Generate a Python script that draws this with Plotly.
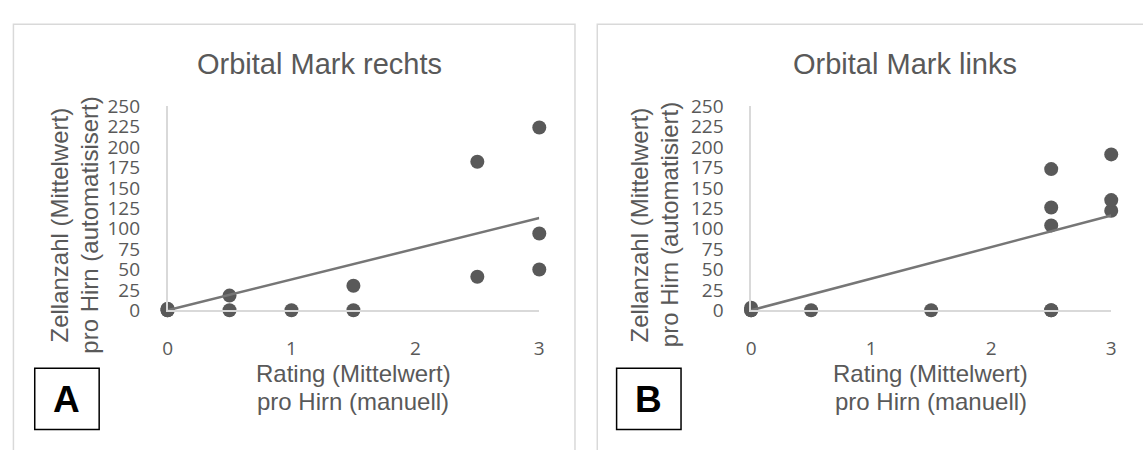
import numpy as np
import plotly.graph_objects as go

W, H = 1143, 450

# ---- data ----
rating_A = [0, 0, 0, 0.5, 0.5, 1, 1.5, 1.5, 2.5, 2.5, 3, 3, 3]
cells_A = [0, 2, 0, 0, 18, 0, 0, 30, 182, 41, 224, 94, 50]

rating_B = [0, 0, 0, 0.5, 1.5, 2.5, 2.5, 2.5, 2.5, 2.5, 3, 3, 3]
cells_B = [0, 3, 0, 0, 0, 0, 0, 104, 126, 173, 122, 135, 191]

x_ticks = [0, 1, 2, 3]
y_ticks = [0, 25, 50, 75, 100, 125, 150, 175, 200, 225, 250]

titles = ["Orbital Mark rechts", "Orbital Mark links"]
y_title_1 = ["Zellanzahl (Mittelwert)", "Zellanzahl (Mittelwert)"]
y_title_2 = ["pro Hirn (automatisisert)", "pro Hirn (automatisiert)"]
x_title_1 = "Rating (Mittelwert)"
x_title_2 = "pro Hirn (manuell)"
panel_labels = ["A", "B"]

GRAY_TXT = "#595959"
MARK = "#595959"
TREND = "#767676"
AXIS = "#d9d9d9"
TICK_FONT = dict(family="Open Sans", size=19, color=GRAY_TXT)


def px_x(p):
    return p / W


def px_y(p):
    return 1 - p / H


fig = go.Figure()

panels = [
    dict(x=rating_A, y=cells_A, xa="x", ya="y"),
    dict(x=rating_B, y=cells_B, xa="x2", ya="y2"),
]

for i, p in enumerate(panels):
    xs = np.array(p["x"], dtype=float)
    ys = np.array(p["y"], dtype=float)
    fig.add_trace(go.Scatter(
        x=xs, y=ys, mode="markers", xaxis=p["xa"], yaxis=p["ya"],
        marker=dict(size=14, color=MARK), cliponaxis=False, showlegend=False,
    ))
    # linear trendline with intercept fixed at 0 (Excel style)
    slope = float((xs * ys).sum() / (xs * xs).sum())
    tx = np.array([xs.min(), xs.max()])
    fig.add_trace(go.Scatter(
        x=tx, y=slope * tx, mode="lines", xaxis=p["xa"], yaxis=p["ya"],
        line=dict(color=TREND, width=2.5), cliponaxis=False, showlegend=False,
    ))

ydom = [px_y(315.5), px_y(99)]
axis_common = dict(showgrid=False, zeroline=False, showline=True,
                   linecolor=AXIS, linewidth=1.5, ticks="",
                   tickfont=TICK_FONT)

fig.update_layout(
    width=W, height=H, margin=dict(l=0, r=0, t=0, b=0),
    paper_bgcolor="white", plot_bgcolor="white",
    xaxis=dict(domain=[px_x(164), px_x(539)], range=[0, 3], tickvals=x_ticks,
               anchor="y", ticklabelstandoff=20, **axis_common),
    yaxis=dict(domain=ydom, range=[0, 250], tickvals=y_ticks, anchor="x",
               ticklabelstandoff=22, **axis_common),
    xaxis2=dict(domain=[px_x(752.7), px_x(1116)], range=[0, 3], tickvals=x_ticks,
                anchor="y2", ticklabelstandoff=20, **axis_common),
    yaxis2=dict(domain=ydom, range=[0, 250], tickvals=y_ticks, anchor="x2",
                ticklabelstandoff=22, **axis_common),
)

# frames around the two charts
fig.add_shape(type="rect", xref="paper", yref="paper",
              x0=px_x(8.5), x1=px_x(575), y0=px_y(480), y1=px_y(12),
              line=dict(color=AXIS, width=1.5), layer="below")
fig.add_shape(type="rect", xref="paper", yref="paper",
              x0=px_x(597.5), x1=px_x(1180), y0=px_y(480), y1=px_y(12),
              line=dict(color=AXIS, width=1.5), layer="below")

ann = []
title_cx = [317, 908]
ytitle_cx = [(54, 84.4), (640, 670)]
xtitle_cx = [351.5, 934]
box_x = [(30, 95), (617, 682)]
for i in range(2):
    ann.append(dict(text=titles[i], x=px_x(title_cx[i]), y=px_y(54),
                    font=dict(family="Liberation Sans", size=29, color=GRAY_TXT)))
    ann.append(dict(text=y_title_1[i], x=px_x(ytitle_cx[i][0]), y=px_y(225),
                    textangle=-90,
                    font=dict(family="Liberation Sans", size=24, color=GRAY_TXT)))
    ann.append(dict(text=y_title_2[i], x=px_x(ytitle_cx[i][1]), y=px_y(225),
                    textangle=-90,
                    font=dict(family="Liberation Sans", size=24, color=GRAY_TXT)))
    ann.append(dict(text=x_title_1, x=px_x(xtitle_cx[i]), y=px_y(383),
                    font=dict(family="Liberation Sans", size=24, color=GRAY_TXT)))
    ann.append(dict(text=x_title_2, x=px_x(xtitle_cx[i]), y=px_y(412),
                    font=dict(family="Liberation Sans", size=24, color=GRAY_TXT)))
    bx0, bx1 = box_x[i]
    fig.add_shape(type="rect", xref="paper", yref="paper",
                  x0=px_x(bx0), x1=px_x(bx1), y0=px_y(442), y1=px_y(377),
                  line=dict(color="black", width=1.5), fillcolor="white")
    ann.append(dict(text="<b>" + panel_labels[i] + "</b>", x=px_x((bx0 + bx1) / 2),
                    y=px_y(410),
                    font=dict(family="Liberation Sans", size=37, color="black")))

for a in ann:
    a.update(xref="paper", yref="paper", xanchor="center", yanchor="middle",
             showarrow=False)
    fig.add_annotation(**a)

fig.write_html("out.html")
